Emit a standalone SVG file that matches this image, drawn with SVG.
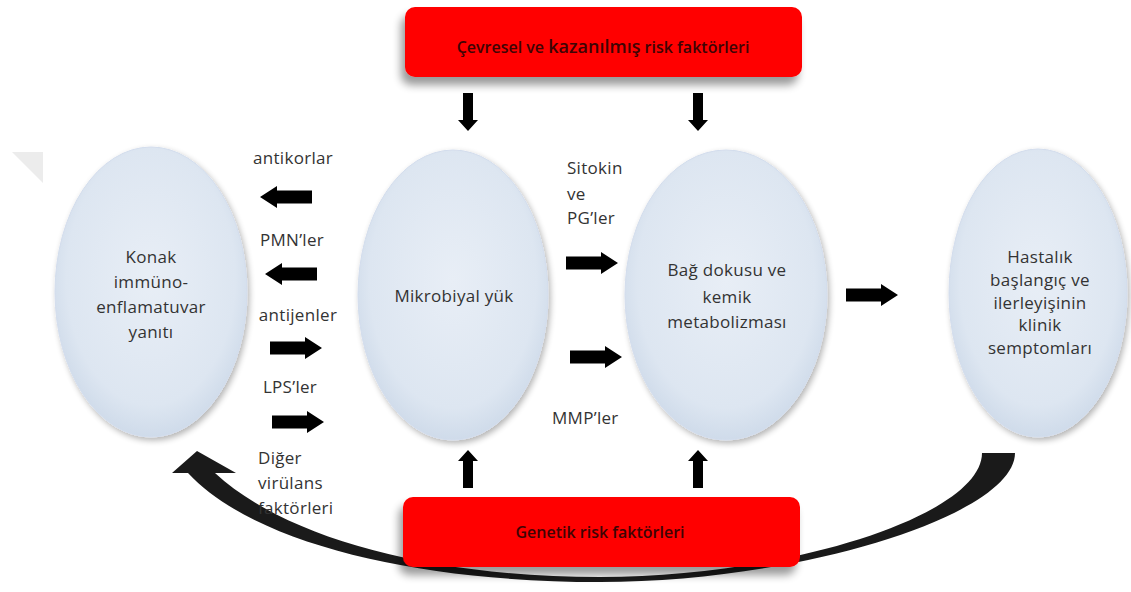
<svg xmlns="http://www.w3.org/2000/svg" width="1131" height="592" viewBox="0 0 1131 592">
<defs>
<radialGradient id="eg" cx="50%" cy="45%" r="55%">
<stop offset="0" stop-color="#e8eef6"/>
<stop offset="0.8" stop-color="#dde6f1"/>
<stop offset="1" stop-color="#cfdbea"/>
</radialGradient>
<filter id="sh" x="-20%" y="-20%" width="140%" height="140%">
<feGaussianBlur in="SourceAlpha" stdDeviation="3"/>
<feOffset dx="2" dy="3" result="b"/>
<feComponentTransfer><feFuncA type="linear" slope="0.3"/></feComponentTransfer>
<feMerge><feMergeNode/><feMergeNode in="SourceGraphic"/></feMerge>
</filter>
<filter id="bsh" x="-10%" y="-30%" width="120%" height="180%">
<feGaussianBlur in="SourceAlpha" stdDeviation="4"/>
<feOffset dx="-4" dy="8" result="b"/>
<feComponentTransfer><feFuncA type="linear" slope="0.4"/></feComponentTransfer>
<feMerge><feMergeNode/><feMergeNode in="SourceGraphic"/></feMerge>
</filter>
<path id="ah" d="M0 0 L17 -11 L17 -6.5 L52 -6.5 L52 6.5 L17 6.5 L17 11 Z"/>
<path id="av" d="M0 0 L-10 -11 L-5 -11 L-5 -38 L5 -38 L5 -11 L10 -11 Z"/>
</defs>
<style>
.ell{fill:url(#eg);stroke:#d3dded;stroke-width:1;filter:url(#sh)}
.t{font-family:"Open Sans","Noto Sans",sans-serif;font-size:17px;fill:#333333;letter-spacing:0.3px}
.c{text-anchor:middle}
.box{fill:#ff0000;filter:url(#bsh)}
.bt{font-family:"Open Sans","Noto Sans",sans-serif;font-size:16px;font-weight:600;fill:#3e0404;text-anchor:middle}
.ar{fill:#000}
</style>
<rect width="1131" height="592" fill="#ffffff"/>
<polygon points="12,152 43,152 43,183" fill="#ececec"/>

<g id="connectors">
<path d="M1015 453 C1015 515 800 582 600 582 C420 582 255 545 188 473 L172 473 L197 451 L236 473 L215 473 C285 538 430 577 600 577 C790 577 982 515 982 453 Z" fill="#1a1a1a"/>
<use class="ar" href="#av" x="468" y="131"/>
<use class="ar" href="#av" x="698" y="131"/>
<use class="ar" href="#av" x="468" y="450" transform="rotate(180 468 450)"/>
<use class="ar" href="#av" x="698" y="450" transform="rotate(180 698 450)"/>
<use class="ar" href="#ah" x="260" y="197"/>
<use class="ar" href="#ah" x="265" y="274"/>
<use class="ar" href="#ah" x="322" y="348" transform="rotate(180 322 348)"/>
<use class="ar" href="#ah" x="324" y="422" transform="rotate(180 324 422)"/>
<use class="ar" href="#ah" x="618" y="263" transform="rotate(180 618 263)"/>
<use class="ar" href="#ah" x="622" y="357" transform="rotate(180 622 357)"/>
<use class="ar" href="#ah" x="898" y="295" transform="rotate(180 898 295)"/>
</g>

<g id="labels">
<text class="t c" x="293" y="164">antikorlar</text>
<text class="t c" x="292" y="246">PMN’ler</text>
<text class="t c" x="298" y="321">antijenler</text>
<text class="t c" x="290" y="393">LPS’ler</text>
<text class="t" x="258" y="464">Diğer</text>
<text class="t" x="258" y="489">virülans</text>
<text class="t" x="258" y="514">faktörleri</text>
<text class="t" x="567" y="174">Sitokin</text>
<text class="t" x="567" y="200">ve</text>
<text class="t" x="567" y="224">PG’ler</text>
<text class="t" x="552" y="424">MMP’ler</text>
</g>

<g id="node-cevresel">
<rect class="box" x="405" y="7" width="397" height="70" rx="10"/>
<text class="bt" x="603" y="53">Çevresel ve <tspan font-size="18">kazanılmış</tspan> risk faktörleri</text>
</g>

<g id="node-genetik">
<rect class="box" x="403" y="497" width="397" height="70" rx="10"/>
<text class="bt" x="600" y="538">Genetik risk faktörleri</text>
</g>

<g id="node-konak">
<ellipse class="ell" cx="151" cy="292" rx="96" ry="145"/>
<text class="t c" x="151" y="263">Konak</text>
<text class="t c" x="151" y="288">immüno-</text>
<text class="t c" x="151" y="313">enflamatuvar</text>
<text class="t c" x="151" y="338">yanıtı</text>
</g>

<g id="node-mikrobiyal">
<ellipse class="ell" cx="453" cy="295" rx="95" ry="145"/>
<text class="t c" x="454" y="302">Mikrobiyal yük</text>
</g>

<g id="node-bag">
<ellipse class="ell" cx="726" cy="295" rx="101" ry="145"/>
<text class="t c" x="727" y="276">Bağ dokusu ve</text>
<text class="t c" x="727" y="303">kemik</text>
<text class="t c" x="727" y="328">metabolizması</text>
</g>

<g id="node-hastalik">
<ellipse class="ell" cx="1038" cy="293" rx="89" ry="144"/>
<text class="t c" x="1040" y="263">Hastalık</text>
<text class="t c" x="1040" y="286">başlangıç ve</text>
<text class="t c" x="1040" y="309">ilerleyişinin</text>
<text class="t c" x="1040" y="331">klinik</text>
<text class="t c" x="1040" y="354">semptomları</text>
</g>
</svg>
